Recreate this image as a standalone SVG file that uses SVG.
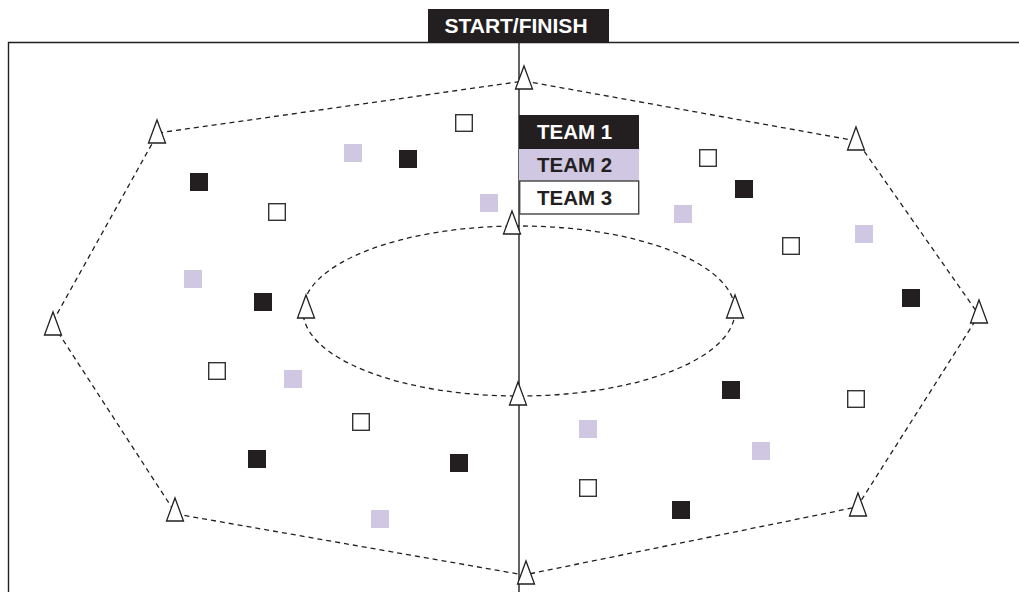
<svg xmlns="http://www.w3.org/2000/svg" width="1019" height="592" viewBox="0 0 1019 592">
<style>
.frame{fill:none;stroke:#231f20;stroke-width:1.4}
.dash{fill:none;stroke:#231f20;stroke-width:1.3;stroke-dasharray:5 4}
.cone{fill:#fff;stroke:#231f20;stroke-width:1.3;stroke-linejoin:miter}
.t1{fill:#231f20}
.t2{fill:#d0c8e2}
.t3{fill:#fff;stroke:#333;stroke-width:1.4}
.lbl{font-family:"Liberation Sans",Arial,sans-serif;font-weight:bold}
</style>
<defs>
<path id="cone" d="M0,0 L8.5,23 L-8.5,23 Z"/>
<rect id="sq" width="18" height="18"/>
<rect id="sqo" x="0.7" y="0.7" width="16.6" height="16.6"/>
</defs>
<rect width="1019" height="592" fill="#fff"/>
<g id="field">
<path class="frame" d="M8.5,592 V42.5 H1019"/>
<line class="frame" x1="519" y1="43" x2="519" y2="592"/>
</g>
<g id="connectors">
<polygon class="dash" points="524,81 857,141 979,315 857,507 524,575 176,514 52,323 158,133"/>
<ellipse class="dash" cx="519" cy="311" rx="216" ry="85"/>
</g>
<g id="cones">
<use href="#cone" class="cone" x="524" y="66"/>
<use href="#cone" class="cone" x="157" y="120"/>
<use href="#cone" class="cone" x="856" y="127"/>
<use href="#cone" class="cone" x="53" y="312"/>
<use href="#cone" class="cone" x="979" y="300"/>
<use href="#cone" class="cone" x="175" y="498"/>
<use href="#cone" class="cone" x="858" y="493"/>
<use href="#cone" class="cone" x="526" y="561"/>
<use href="#cone" class="cone" x="512" y="211"/>
<use href="#cone" class="cone" x="306" y="295"/>
<use href="#cone" class="cone" x="735" y="295"/>
<use href="#cone" class="cone" x="518" y="382"/>
</g>
<g id="team1-players">
<use href="#sq" class="t1" x="190" y="173"/>
<use href="#sq" class="t1" x="399" y="150"/>
<use href="#sq" class="t1" x="254" y="293"/>
<use href="#sq" class="t1" x="248" y="450"/>
<use href="#sq" class="t1" x="450" y="454"/>
<use href="#sq" class="t1" x="735" y="180"/>
<use href="#sq" class="t1" x="902" y="289"/>
<use href="#sq" class="t1" x="722" y="381"/>
<use href="#sq" class="t1" x="672" y="501"/>
</g>
<g id="team2-players">
<use href="#sq" class="t2" x="344" y="144"/>
<use href="#sq" class="t2" x="480" y="194"/>
<use href="#sq" class="t2" x="184" y="270"/>
<use href="#sq" class="t2" x="284" y="370"/>
<use href="#sq" class="t2" x="371" y="510"/>
<use href="#sq" class="t2" x="674" y="205"/>
<use href="#sq" class="t2" x="855" y="225"/>
<use href="#sq" class="t2" x="579" y="420"/>
<use href="#sq" class="t2" x="752" y="442"/>
</g>
<g id="team3-players">
<use href="#sqo" class="t3" x="455" y="114"/>
<use href="#sqo" class="t3" x="268" y="203"/>
<use href="#sqo" class="t3" x="208" y="362"/>
<use href="#sqo" class="t3" x="352" y="413"/>
<use href="#sqo" class="t3" x="699" y="149"/>
<use href="#sqo" class="t3" x="782" y="237"/>
<use href="#sqo" class="t3" x="847" y="390"/>
<use href="#sqo" class="t3" x="579" y="479"/>
</g>
<g id="start-finish">
<rect x="428" y="9" width="181" height="34" fill="#231f20"/>
<text class="lbl" x="516" y="33" font-size="21" fill="#fff" text-anchor="middle">START/FINISH</text>
</g>
<g id="legend">
<rect x="519" y="115" width="120" height="34" fill="#231f20"/>
<text class="lbl" x="537" y="139" font-size="20.5" fill="#fff">TEAM 1</text>
<rect x="519" y="149" width="120" height="32" fill="#d0c8e2"/>
<text class="lbl" x="537" y="172" font-size="20.5" fill="#231f20">TEAM 2</text>
<rect x="519.7" y="181" width="119" height="33" fill="#fff" stroke="#444" stroke-width="1.4"/>
<text class="lbl" x="537" y="205" font-size="20.5" fill="#231f20">TEAM 3</text>
</g>
</svg>
